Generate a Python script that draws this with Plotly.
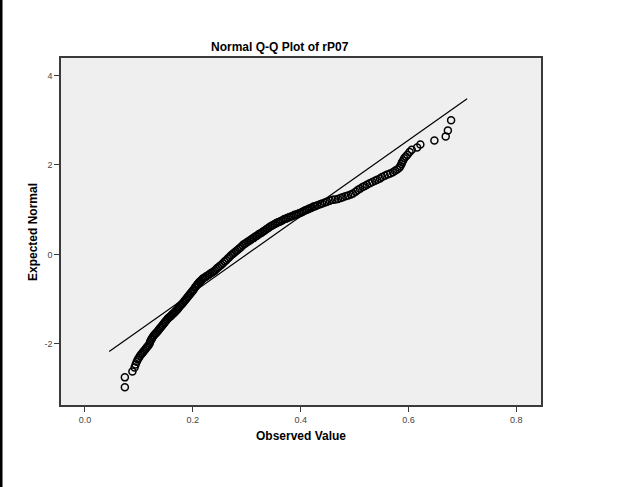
import plotly.graph_objects as go

observed_value = [
    0.074, 0.074, 0.088, 0.092, 0.094, 0.096, 0.098, 0.100, 0.102, 0.104, 0.106, 0.108,
    0.110, 0.112, 0.114, 0.116, 0.118, 0.120, 0.121, 0.123, 0.124, 0.126,
    0.128, 0.130, 0.132, 0.134, 0.136, 0.138,
    0.140, 0.142, 0.144, 0.146, 0.148, 0.150, 0.152, 0.154,
    0.156, 0.158, 0.160, 0.162, 0.164, 0.166, 0.168, 0.170,
    0.172, 0.174, 0.176, 0.178, 0.180, 0.182, 0.184, 0.186, 0.188,
    0.190, 0.192, 0.194, 0.196, 0.198, 0.200,
    0.202, 0.204, 0.206,
    0.208, 0.210, 0.212, 0.214, 0.216, 0.218,
    0.220, 0.223, 0.226, 0.229, 0.232, 0.235, 0.238,
    0.241, 0.244, 0.247, 0.250, 0.253, 0.256,
    0.259, 0.262, 0.265, 0.268, 0.271, 0.274,
    0.277, 0.280, 0.283, 0.286, 0.289, 0.292,
    0.295, 0.298, 0.301, 0.304, 0.307, 0.310,
    0.313, 0.316, 0.319, 0.322, 0.325, 0.328,
    0.331, 0.334, 0.337, 0.340, 0.343, 0.346, 0.349,
    0.352, 0.355, 0.358, 0.361, 0.364, 0.367,
    0.370, 0.373, 0.376, 0.379, 0.382, 0.385, 0.388,
    0.391, 0.394, 0.397, 0.400, 0.403, 0.406, 0.409, 0.412, 0.415, 0.418,
    0.421, 0.424, 0.427, 0.431, 0.436, 0.440, 0.445, 0.449, 0.454, 0.459,
    0.464, 0.469, 0.474, 0.478, 0.483, 0.488, 0.493, 0.497, 0.502, 0.506,
    0.510, 0.515, 0.519, 0.523, 0.528, 0.533, 0.538, 0.542, 0.547, 0.551,
    0.556, 0.561, 0.566, 0.571, 0.575, 0.579, 0.583, 0.585, 0.587, 0.588,
    0.590, 0.592, 0.595, 0.598, 0.602, 0.606, 0.616, 0.622, 0.648, 0.669,
    0.673, 0.679,
]
expected_normal = [
    -2.97, -2.75, -2.62, -2.53, -2.46, -2.40, -2.35, -2.31, -2.27, -2.24, -2.21, -2.18,
    -2.15, -2.12, -2.09, -2.06, -2.03, -1.99, -1.95, -1.91, -1.88, -1.84,
    -1.81, -1.78, -1.76, -1.73, -1.70, -1.67,
    -1.64, -1.61, -1.58, -1.55, -1.52, -1.49, -1.46, -1.43,
    -1.41, -1.39, -1.37, -1.34, -1.32, -1.30, -1.27, -1.25,
    -1.22, -1.19, -1.16, -1.13, -1.11, -1.08, -1.05, -1.02, -0.99,
    -0.96, -0.93, -0.90, -0.87, -0.84, -0.81,
    -0.78, -0.74, -0.71,
    -0.68, -0.65, -0.62, -0.60, -0.58, -0.55,
    -0.53, -0.51, -0.48, -0.46, -0.43, -0.41, -0.39,
    -0.36, -0.32, -0.29, -0.26, -0.23, -0.20,
    -0.16, -0.13, -0.09, -0.06, -0.02, 0.01,
    0.04, 0.07, 0.10, 0.13, 0.16, 0.20,
    0.23, 0.25, 0.28, 0.30, 0.32, 0.35,
    0.37, 0.40, 0.42, 0.45, 0.47, 0.49,
    0.52, 0.54, 0.57, 0.59, 0.62, 0.64, 0.66,
    0.68, 0.70, 0.72, 0.73, 0.75, 0.77,
    0.79, 0.80, 0.82, 0.83, 0.85, 0.86, 0.88,
    0.89, 0.90, 0.92, 0.93, 0.95, 0.97, 0.99, 1.00, 1.02, 1.03,
    1.05, 1.07, 1.08, 1.10, 1.12, 1.14, 1.16, 1.18, 1.20, 1.22,
    1.23, 1.24, 1.26, 1.28, 1.30, 1.32, 1.34, 1.36, 1.40, 1.44,
    1.47, 1.51, 1.53, 1.56, 1.59, 1.62, 1.65, 1.67, 1.70, 1.73,
    1.76, 1.79, 1.81, 1.84, 1.87, 1.90, 1.94, 1.98, 2.02, 2.06,
    2.10, 2.15, 2.19, 2.23, 2.29, 2.34, 2.39, 2.46, 2.55, 2.64,
    2.77, 3.00,
]

# Reference (normal) line end points
line_x = [0.045, 0.7087]
line_y = [-2.17, 3.48]

x_ticks = [0.0, 0.2, 0.4, 0.6, 0.8]
x_tick_labels = ["0.0", "0.2", "0.4", "0.6", "0.8"]
y_ticks = [-2, 0, 2, 4]
y_tick_labels = ["-2", "0", "2", "4"]

W, H = 621, 487
ML, MR, MT, MB = 61, 80, 58, 82
PW, PH = W - ML - MR, H - MT - MB

FONT = "Liberation Sans, Arial, sans-serif"

fig = go.Figure()
fig.add_trace(go.Scatter(
    x=line_x, y=line_y, mode="lines",
    line=dict(color="black", width=1.2),
    hoverinfo="skip", showlegend=False,
))
fig.add_trace(go.Scatter(
    x=observed_value, y=expected_normal, mode="markers",
    marker=dict(symbol="circle-open", size=7, color="black",
                line=dict(width=1.5, color="black")),
    showlegend=False,
))

axis_common = dict(
    showline=True, linecolor="#3a3a3a", linewidth=1.5, mirror=True,
    showgrid=False, zeroline=False,
    ticks="outside", ticklen=5, tickwidth=1, tickcolor="#3a3a3a",
    tickfont=dict(family=FONT, size=9, color="#444444"),
)

fig.update_layout(
    width=W, height=H,
    margin=dict(l=ML, r=MR, t=MT, b=MB, pad=0),
    paper_bgcolor="white", plot_bgcolor="#efefef",
    xaxis=dict(range=[-0.0444, 0.8457], tickvals=x_ticks, ticktext=x_tick_labels, **axis_common),
    yaxis=dict(range=[-3.368, 4.393], tickvals=y_ticks, ticktext=y_tick_labels, **axis_common),
    annotations=[
        dict(text="<b>Normal Q-Q Plot of rP07</b>", xref="paper", yref="paper",
             x=(280 - ML) / PW, y=1 + (MT - 47) / PH, xanchor="center", yanchor="middle",
             showarrow=False, font=dict(family=FONT, size=12, color="black")),
        dict(text="<b>Observed Value</b>", xref="paper", yref="paper",
             x=(301 - ML) / PW, y=-(436 - (MT + PH)) / PH, xanchor="center", yanchor="middle",
             showarrow=False, font=dict(family=FONT, size=12, color="black")),
        dict(text="<b>Expected Normal</b>", xref="paper", yref="paper",
             x=(33 - ML) / PW, y=(MT + PH - 232) / PH, xanchor="center", yanchor="middle",
             textangle=-90, showarrow=False, font=dict(family=FONT, size=12, color="black")),
    ],
    shapes=[
        dict(type="rect", xref="paper", yref="paper",
             x0=(0 - ML) / PW, x1=(2.5 - ML) / PW,
             y0=-MB / PH, y1=1 + MT / PH,
             fillcolor="black", line=dict(width=0)),
    ],
)

fig.write_html("out.html")
